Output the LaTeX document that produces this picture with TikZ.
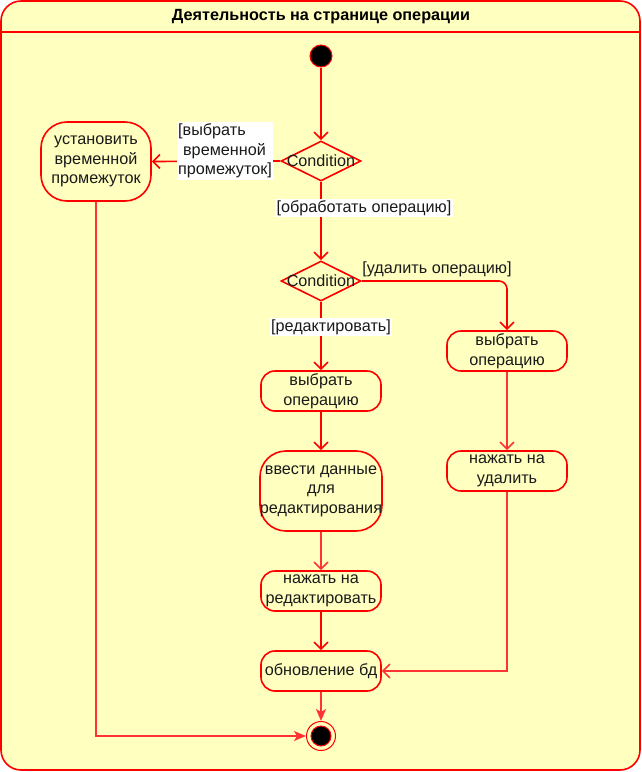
\documentclass[tikz,border=0pt]{standalone}
\usepackage{fontspec}
\setmainfont{Liberation Sans}
\usetikzlibrary{shapes.geometric,arrows.meta}
\definecolor{umlfill}{HTML}{FFFFC0}
\definecolor{umlred}{HTML}{FF0000}
\definecolor{flowred}{HTML}{FF3333}
\definecolor{inktext}{HTML}{1A1A1A}
\begin{document}
\begin{tikzpicture}[x=1pt,y=-1pt,
  font=\fontsize{16.2}{19.5}\selectfont,
  every node/.style={text=inktext},
  action/.style={draw=umlred, fill=umlfill, line width=1.6pt, rounded corners=14pt,
    minimum width=120pt, minimum height=40pt, inner sep=0pt, align=center},
  tallaction/.style={action, minimum height=80pt, rounded corners=26pt},
  decision/.style={draw=umlred, fill=umlfill, line width=1.6pt, diamond,
    minimum width=80pt, minimum height=40pt, inner sep=0pt},
  guard/.style={fill=white, inner sep=1.5pt, align=center},
  flow/.style={draw=flowred, line width=1.6pt, -{Straight Barb[length=7pt,width=14pt,line width=1.6pt]}},
  endflow/.style={draw=flowred, line width=1.6pt, -{Stealth[length=12pt,width=10pt,inset=3pt]}}
]
\useasboundingbox (0,0) rectangle (642,772);

% swimlane frame and title band
\draw[umlred, line width=1.6pt, fill=umlfill, rounded corners=20pt] (1,1) rectangle (640,770);
\draw[umlred, line width=1.6pt] (1,32) -- (640,32);
\node[font=\fontsize{16.2}{19}\selectfont\bfseries, text=black] (title) at (321,17) {Деятельность на странице операции};

% initial and final states
\node[circle, draw=umlred, fill=black, line width=1pt, minimum size=22pt, inner sep=0pt] (start) at (321,56) {};
\node[circle, draw=umlred, fill=umlfill, line width=1pt, minimum size=29pt, inner sep=0pt] (final) at (321,736) {};
\node[circle, draw=umlred, fill=black, line width=1pt, minimum size=20pt, inner sep=0pt] (finaldot) at (321,736) {};

% decisions
\node[decision] (d1) at (321,161) {};
\node (d1t) at (321,161) {Condition};
\node[decision] (d2) at (321,281) {};
\node (d2t) at (321,281) {Condition};

% actions
\node[tallaction, minimum width=110pt, minimum height=79pt] (period) at (96,161.5) {установить\\временной\\промежуток};
\node[action] (pickedit) at (321,391) {выбрать\\операцию};
\node[action] (pickdel) at (507,351) {выбрать\\операцию};
\node[tallaction] (enter) at (321,491) {ввести данные\\для\\редактирования};
\node[action] (pressedit) at (321,591) {нажать на\\редактировать};
\node[action] (update) at (321,671) {обновление бд};
\node[action] (pressdel) at (507,471) {нажать на\\удалить};

% control flows
\draw[flow, draw=umlred] (start) -- (d1.north);
\draw[flow, draw=umlred] (d1.west) -- (period.east);
\node[guard, align=left] (g1) at (225,151) {[выбрать\\\hspace*{5pt}временной\\промежуток]};
\draw[flow, draw=umlred] (d1.south) -- (d2.north);
\node[guard] (g2) at (364,208) {[обработать операцию]};
\draw[flow, draw=umlred, rounded corners=8pt] (d2.east) -| (pickdel.north);
\node[inner sep=1pt] (g3) at (437,269) {[удалить операцию]};
\draw[flow, draw=umlred] (d2.south) -- (pickedit.north);
\node[guard] (g4) at (331,327) {[редактировать]};
\draw[flow, draw=umlred] (pickedit) -- (enter);
\draw[flow] (enter) -- (pressedit);
\draw[flow, draw=umlred] (pressedit) -- (update);
\draw[flow] (pickdel) -- (pressdel);
\draw[flow] (pressdel.south) |- (update.east);
\draw[endflow] (update) -- (final);
\draw[endflow] (period.south) |- (final.west);
\end{tikzpicture}
\end{document}
